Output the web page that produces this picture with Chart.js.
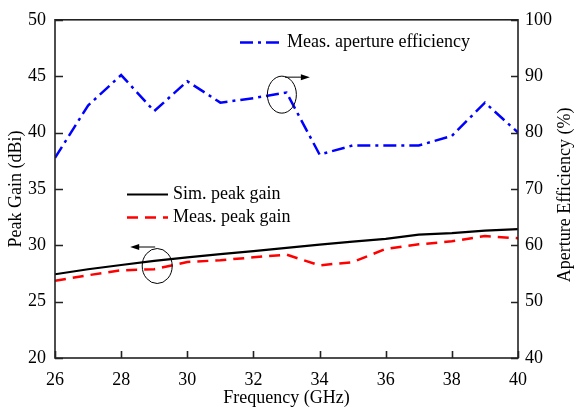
<!DOCTYPE html>
<html><head><meta charset="utf-8">
<script src="https://cdn.jsdelivr.net/npm/chart.js@4/dist/chart.umd.min.js"></script>
<style>html,body{margin:0;padding:0;background:#fff;overflow:hidden}</style>
</head><body>
<canvas id="c" width="574" height="411" style="width:574px;height:411px;display:block"></canvas>
<script>
// ---- data ----
const frequencies     = [26, 27, 28, 29, 30, 31, 32, 33, 34, 35, 36, 37, 38, 39, 40];
const simPeakGain     = [27.43, 27.87, 28.25, 28.62, 28.93, 29.22, 29.48, 29.77, 30.06, 30.32, 30.57, 30.94, 31.08, 31.3, 31.44];
const measPeakGain    = [26.85, 27.34, 27.78, 27.87, 28.52, 28.67, 28.93, 29.17, 28.22, 28.5, 29.68, 30.08, 30.35, 30.82, 30.62];
const measApertureEff = [75.5, 84.8, 90.2, 83.8, 89.1, 85.3, 86.1, 87.1, 76.1, 77.7, 77.7, 77.7, 79.4, 85.3, 80.0];
const xTicks  = [26, 28, 30, 32, 34, 36, 38, 40];
const yTicks  = [20, 25, 30, 35, 40, 45, 50];
const y2Ticks = [40, 50, 60, 70, 80, 90, 100];
const seriesLabels = ['Sim. peak gain', 'Meas. peak gain', 'Meas. aperture efficiency'];

const FONT = "'Liberation Serif', 'Times New Roman', serif";
const FS = 18;
const pts = (arr) => frequencies.map((f, i) => ({x: f, y: arr[i]}));

// annotation marks (data units): ellipse + arrow direction
const annotations = [
  {axis: 'y',  cx: 29.09, cy: 28.16, rx: 15, ry: 17.5, dir: -1},
  {axis: 'y',  cx: 32.86, cy: 43.36, rx: 14.5, ry: 18.5, dir: 1}
];

const framePlugin = {
  id: 'frame',
  afterDraw(chart) {
    const ctx = chart.ctx;
    const {left, right, top, bottom} = chart.chartArea;
    const sx = chart.scales.x, sy = chart.scales.y, sy2 = chart.scales.y2;
    ctx.save();
    ctx.strokeStyle = '#222';
    ctx.lineWidth = 1.6;
    ctx.strokeRect(left, top, right - left, bottom - top);
    // inward ticks
    ctx.beginPath();
    xTicks.forEach(v => { const p = Math.round(sx.getPixelForValue(v)) + 0.5; ctx.moveTo(p, bottom); ctx.lineTo(p, bottom - 7); });
    yTicks.forEach(v => { const p = Math.round(sy.getPixelForValue(v)) + 0.5; ctx.moveTo(left, p); ctx.lineTo(left + 8, p); });
    y2Ticks.forEach(v => { const p = Math.round(sy2.getPixelForValue(v)) + 0.5; ctx.moveTo(right, p); ctx.lineTo(right - 7, p); });
    ctx.stroke();

    // right axis title (reads bottom-to-top)
    ctx.fillStyle = '#000';
    ctx.font = FS + 'px ' + FONT;
    ctx.textAlign = 'center';
    ctx.textBaseline = 'middle';
    ctx.save();
    ctx.translate(565, (top + bottom) / 2 + 6);
    ctx.rotate(-Math.PI / 2);
    ctx.fillText('Aperture Efficiency (%)', 0, 0);
    ctx.restore();

    // legends
    const ds = chart.data.datasets;
    const legendItems = [
      {d: ds[2], x1: 240, x2: 282, y: 42.5, tx: 287},
      {d: ds[0], x1: 127, x2: 168, y: 194.5, tx: 173},
      {d: ds[1], x1: 127, x2: 168, y: 217.5, tx: 173}
    ];
    legendItems.forEach(it => {
      ctx.save();
      ctx.strokeStyle = it.d.borderColor;
      ctx.lineWidth = it.d.borderWidth;
      ctx.setLineDash(it.d.borderDash || []);
      ctx.beginPath(); ctx.moveTo(it.x1, it.y); ctx.lineTo(it.x2, it.y); ctx.stroke();
      ctx.restore();
      ctx.fillStyle = '#000';
      ctx.textAlign = 'left';
      ctx.textBaseline = 'middle';
      ctx.fillText(it.d.label, it.tx, it.y);
    });

    // ellipses and arrows
    ctx.strokeStyle = '#000';
    ctx.fillStyle = '#000';
    ctx.lineWidth = 1;
    annotations.forEach(a => {
      const cx = sx.getPixelForValue(a.cx), cy = chart.scales[a.axis].getPixelForValue(a.cy);
      ctx.beginPath(); ctx.ellipse(cx, cy, a.rx, a.ry, 0, 0, Math.PI * 2); ctx.stroke();
      const ay = cy - a.ry - (a.dir < 0 ? 1.5 : -1);
      const start = a.dir < 0 ? cx - 2 : cx + 3;
      const tip = start + a.dir * 25;
      ctx.beginPath(); ctx.moveTo(start, ay); ctx.lineTo(tip - a.dir * 8, ay); ctx.stroke();
      ctx.beginPath(); ctx.moveTo(tip, ay); ctx.lineTo(tip - a.dir * 9, ay - 3); ctx.lineTo(tip - a.dir * 9, ay + 3); ctx.closePath(); ctx.fill();
    });
    ctx.restore();
  }
};

new Chart(document.getElementById('c'), {
  type: 'line',
  data: {
    datasets: [
      {label: seriesLabels[0], data: pts(simPeakGain), yAxisID: 'y', borderColor: '#000000', borderWidth: 2.2, pointRadius: 0, tension: 0, fill: false},
      {label: seriesLabels[1], data: pts(measPeakGain), yAxisID: 'y', borderColor: '#ff0000', borderWidth: 2.5, borderDash: [11, 7], pointRadius: 0, tension: 0, fill: false},
      {label: seriesLabels[2], data: pts(measApertureEff), yAxisID: 'y2', borderColor: '#0000ff', borderWidth: 2.5, borderDash: [13, 5, 3, 5], pointRadius: 0, tension: 0, fill: false}
    ]
  },
  options: {
    responsive: false,
    animation: false,
    devicePixelRatio: 1,
    layout: {padding: {top: 16, left: 0, right: 0, bottom: 0}},
    plugins: {legend: {display: false}, tooltip: {enabled: false}},
    scales: {
      x: {
        type: 'linear', min: 26, max: 40,
        afterBuildTicks: s => { s.ticks = xTicks.map(v => ({value: v})); },
        afterFit: s => { s.height = 53; },
        grid: {display: false, drawTicks: false},
        border: {display: false},
        ticks: {padding: 11, color: '#000', font: {family: FONT, size: FS}, maxRotation: 0},
        title: {display: true, text: 'Frequency (GHz)', color: '#000', font: {family: FONT, size: FS}, padding: {top: 0, bottom: 2}}
      },
      y: {
        position: 'left', min: 20, max: 50,
        afterBuildTicks: s => { s.ticks = yTicks.map(v => ({value: v})); },
        afterFit: s => { s.width = 55; },
        grid: {display: false, drawTicks: false},
        border: {display: false},
        ticks: {padding: 9, color: '#000', font: {family: FONT, size: FS}},
        title: {display: true, text: 'Peak Gain (dBi)', color: '#000', font: {family: FONT, size: FS}, padding: {top: 5, bottom: 0}}
      },
      y2: {
        position: 'right', min: 40, max: 100,
        afterBuildTicks: s => { s.ticks = y2Ticks.map(v => ({value: v})); },
        afterFit: s => { s.width = 56; },
        grid: {display: false, drawTicks: false},
        border: {display: false},
        ticks: {padding: 7, color: '#000', font: {family: FONT, size: FS}}
      }
    }
  },
  plugins: [framePlugin]
});
</script>
</body></html>
